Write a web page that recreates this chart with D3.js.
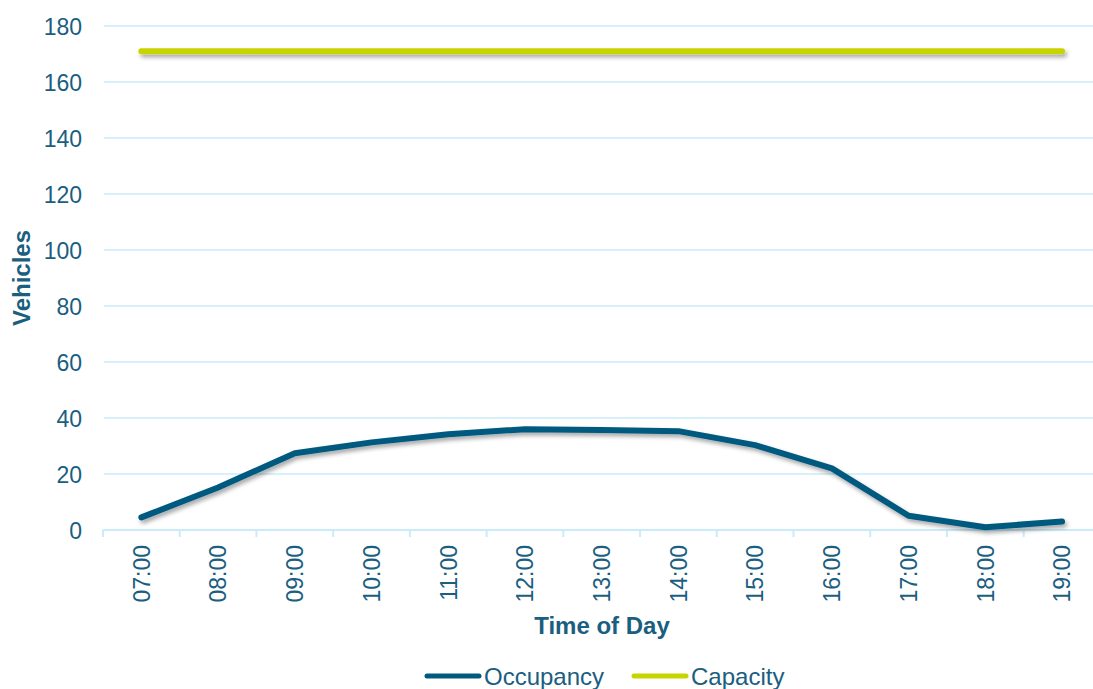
<!DOCTYPE html>
<html>
<head>
<meta charset="utf-8">
<script src="https://cdn.jsdelivr.net/npm/d3@7"></script>
<style>
  body { margin: 0; background: #fff; }
  svg text { font-family: "Liberation Sans", Arial, sans-serif; }
</style>
</head>
<body>
<div id="chart"></div>
<script>
// chart data
var hours = ["07:00", "08:00", "09:00", "10:00", "11:00", "12:00", "13:00",
             "14:00", "15:00", "16:00", "17:00", "18:00", "19:00"];
var occupancy = [4.5, 15.2, 27.4, 31.3, 34.2, 36, 35.7, 35.3, 30.3, 22, 5.1, 1, 3];
var capacity = [171, 171, 171, 171, 171, 171, 171, 171, 171, 171, 171, 171, 171];
var yTicks = [0, 20, 40, 60, 80, 100, 120, 140, 160, 180];

var svgWidth = 1093;
var svgHeight = 689;

var textColor = "#1a5e80";
var gridColor = "#c9ecfa";
var occColor = "#005a80";
var capColor = "#c8d400";

var svg = d3.select("#chart")
  .append("svg")
  .attr("width", svgWidth)
  .attr("height", svgHeight);

// soft shadow under the lines (user space, so the flat line still gets it)
var defs = svg.append("defs");
defs.append("filter")
  .attr("id", "shadow")
  .attr("filterUnits", "userSpaceOnUse")
  .attr("x", 0).attr("y", 0)
  .attr("width", svgWidth).attr("height", svgHeight)
  .append("feDropShadow")
  .attr("dx", 2)
  .attr("dy", 3)
  .attr("stdDeviation", 2)
  .attr("flood-color", "#000")
  .attr("flood-opacity", 0.35);

// scales
var xScale = d3.scaleBand()
  .domain(hours)
  .range([103, 1100.4]);

var yScale = d3.scaleLinear()
  .domain([0, 180])
  .range([530, 26]);

// gridlines
svg.append("g")
  .selectAll("line")
  .data(yTicks.filter(d => d > 0))
  .enter()
  .append("line")
  .attr("x1", 104)
  .attr("x2", 1100)
  .attr("y1", d => yScale(d))
  .attr("y2", d => yScale(d))
  .attr("stroke", gridColor)
  .attr("stroke-width", 1.5);

// y axis labels
var leftAxis = d3.axisLeft(yScale)
  .tickValues(yTicks)
  .tickSize(0)
  .tickPadding(0);

var yAxis = svg.append("g")
  .attr("transform", "translate(82, 0)")
  .call(leftAxis);
yAxis.select(".domain").remove();
yAxis.selectAll("text")
  .attr("fill", textColor)
  .attr("font-size", "23px")
  .attr("dy", "0.36em");

// x axis with ticks at band edges
var bottomAxis = d3.axisBottom(xScale)
  .tickSize(0)
  .tickPadding(0);

var xAxis = svg.append("g")
  .attr("transform", "translate(0, 530)")
  .call(bottomAxis);
xAxis.select(".domain")
  .attr("stroke", gridColor)
  .attr("stroke-width", 2)
  .attr("d", "M103,0H1100");
xAxis.selectAll("text")
  .attr("fill", textColor)
  .attr("font-size", "23px")
  .attr("text-anchor", "end")
  .attr("transform", "rotate(-90)")
  .attr("x", -15)
  .attr("y", 0)
  .attr("dy", "0.36em");

svg.append("g")
  .selectAll("line")
  .data(hours)
  .enter()
  .append("line")
  .attr("x1", d => xScale(d))
  .attr("x2", d => xScale(d))
  .attr("y1", 530)
  .attr("y2", 537)
  .attr("stroke", gridColor)
  .attr("stroke-width", 2);

// axis titles
svg.append("text")
  .attr("transform", "translate(30, 278) rotate(-90)")
  .attr("text-anchor", "middle")
  .attr("font-size", "24px")
  .attr("font-weight", "bold")
  .attr("fill", textColor)
  .text("Vehicles");

svg.append("text")
  .attr("x", 602)
  .attr("y", 634)
  .attr("text-anchor", "middle")
  .attr("font-size", "24px")
  .attr("font-weight", "bold")
  .attr("fill", textColor)
  .text("Time of Day");

// lines
var line = d3.line()
  .x((d, i) => xScale(hours[i]) + xScale.bandwidth() / 2)
  .y(d => yScale(d));

svg.append("path")
  .datum(capacity)
  .attr("d", line)
  .attr("fill", "none")
  .attr("stroke", capColor)
  .attr("stroke-width", 6)
  .attr("stroke-linecap", "round")
  .attr("filter", "url(#shadow)");

svg.append("path")
  .datum(occupancy)
  .attr("d", line)
  .attr("fill", "none")
  .attr("stroke", occColor)
  .attr("stroke-width", 6)
  .attr("stroke-linecap", "round")
  .attr("stroke-linejoin", "round")
  .attr("filter", "url(#shadow)");

// legend
var legendItems = [
  { name: "Occupancy", color: occColor, x: 427 },
  { name: "Capacity", color: capColor, x: 634 }
];

var legend = svg.append("g")
  .selectAll("g")
  .data(legendItems)
  .enter()
  .append("g")
  .attr("transform", d => `translate(${d.x}, 676)`);

legend.append("line")
  .attr("x1", 0)
  .attr("x2", 52)
  .attr("y1", 0)
  .attr("y2", 0)
  .attr("stroke", d => d.color)
  .attr("stroke-width", 5)
  .attr("stroke-linecap", "round");

legend.append("text")
  .attr("x", 57)
  .attr("y", 9)
  .attr("font-size", "24px")
  .attr("fill", textColor)
  .text(d => d.name);
</script>
</body>
</html>
